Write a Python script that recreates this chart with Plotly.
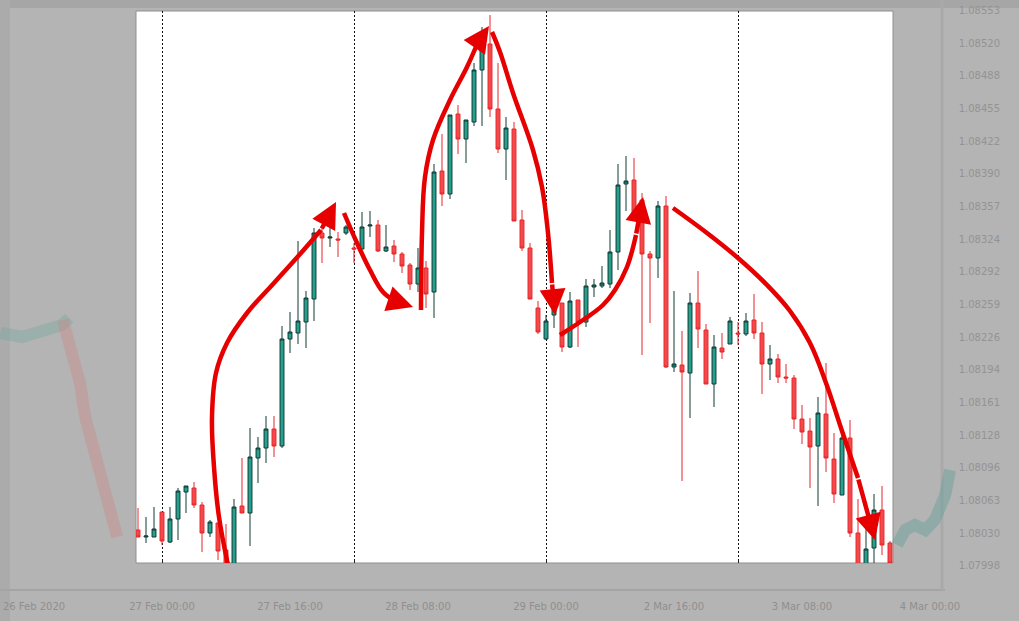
import plotly.graph_objects as go

# hourly candles (index 0 = first candle at the left edge of the panel)
open_ = [1.08033, 1.08026, 1.08026, 1.08051, 1.08021, 1.08044, 1.08071, 1.08075, 1.08058, 1.08030,
         1.08040, 1.08013, 1.07993, 1.08057, 1.08050, 1.08105, 1.08115, 1.08134, 1.08117, 1.08224,
         1.08230, 1.08241, 1.08264, 1.08330, 1.08325, 1.08324, 1.08330, 1.08315, 1.08314, 1.08337,
         1.08338, 1.08312, 1.08317, 1.08309, 1.08298, 1.08279, 1.08295, 1.08271, 1.08392, 1.08369,
         1.08449, 1.08424, 1.08441, 1.08493, 1.08519, 1.08454, 1.08414, 1.08434, 1.08343, 1.08315,
         1.08255, 1.08224, 1.08248, 1.08260, 1.08216, 1.08263, 1.08241, 1.08276, 1.08277, 1.08279,
         1.08311, 1.08379, 1.08383, 1.08363, 1.08309, 1.08305, 1.08357, 1.08196, 1.08198, 1.08190,
         1.08260, 1.08233, 1.08179, 1.08215, 1.08219, 1.08230, 1.08229, 1.08243, 1.08230, 1.08199,
         1.08204, 1.08186, 1.08185, 1.08144, 1.08132, 1.08117, 1.08149, 1.08104, 1.08068, 1.08125,
         1.08030, 1.07993, 1.08015, 1.08053, 1.08020]
high = [1.08055, 1.08046, 1.08056, 1.08051, 1.08056, 1.08075, 1.08077, 1.08081, 1.08061, 1.08043,
        1.08040, 1.08039, 1.08064, 1.08105, 1.08135, 1.08126, 1.08147, 1.08147, 1.08237, 1.08251,
        1.08322, 1.08272, 1.08335, 1.08335, 1.08345, 1.08331, 1.08338, 1.08320, 1.08351, 1.08352,
        1.08343, 1.08338, 1.08323, 1.08311, 1.08300, 1.08315, 1.08302, 1.08399, 1.08429, 1.08448,
        1.08458, 1.08443, 1.08500, 1.08536, 1.08548, 1.08500, 1.08446, 1.08441, 1.08353, 1.08320,
        1.08262, 1.08248, 1.08270, 1.08260, 1.08271, 1.08263, 1.08284, 1.08284, 1.08297, 1.08333,
        1.08399, 1.08407, 1.08405, 1.08370, 1.08312, 1.08362, 1.08367, 1.08272, 1.08232, 1.08270,
        1.08292, 1.08239, 1.08228, 1.08230, 1.08246, 1.08241, 1.08250, 1.08269, 1.08241, 1.08218,
        1.08209, 1.08199, 1.08188, 1.08158, 1.08145, 1.08166, 1.08200, 1.08130, 1.08133, 1.08143,
        1.08064, 1.08046, 1.08069, 1.08077, 1.08022]
low = [1.08026, 1.08020, 1.08026, 1.08018, 1.08020, 1.08023, 1.08050, 1.08055, 1.08011, 1.08026,
       1.08003, 1.07988, 1.07985, 1.08050, 1.08017, 1.08080, 1.08100, 1.08106, 1.08115, 1.08210,
       1.08219, 1.08215, 1.08242, 1.08300, 1.08316, 1.08306, 1.08328, 1.08300, 1.08314, 1.08326,
       1.08311, 1.08311, 1.08301, 1.08290, 1.08273, 1.08271, 1.08255, 1.08245, 1.08357, 1.08364,
       1.08409, 1.08400, 1.08437, 1.08437, 1.08446, 1.08410, 1.08383, 1.08342, 1.08312, 1.08264,
       1.08229, 1.08223, 1.08235, 1.08211, 1.08215, 1.08216, 1.08236, 1.08266, 1.08275, 1.08275,
       1.08293, 1.08352, 1.08350, 1.08208, 1.08240, 1.08285, 1.08195, 1.08191, 1.08082, 1.08145,
       1.08215, 1.08179, 1.08156, 1.08204, 1.08219, 1.08218, 1.08227, 1.08224, 1.08169, 1.08183,
       1.08180, 1.08180, 1.08134, 1.08119, 1.08075, 1.08057, 1.08091, 1.08060, 1.08068, 1.08026,
       1.07983, 1.07983, 1.07993, 1.08008, 1.07993]
close = [1.08026, 1.08027, 1.08034, 1.08022, 1.08044, 1.08072, 1.08077, 1.08058, 1.08030, 1.08041,
         1.08012, 1.07996, 1.08056, 1.08050, 1.08106, 1.08115, 1.08134, 1.08117, 1.08224, 1.08231,
         1.08242, 1.08265, 1.08330, 1.08325, 1.08326, 1.08323, 1.08336, 1.08314, 1.08336, 1.08338,
         1.08312, 1.08316, 1.08309, 1.08297, 1.08279, 1.08295, 1.08269, 1.08391, 1.08369, 1.08448,
         1.08424, 1.08443, 1.08493, 1.08520, 1.08454, 1.08414, 1.08435, 1.08342, 1.08315, 1.08264,
         1.08231, 1.08242, 1.08265, 1.08216, 1.08262, 1.08241, 1.08277, 1.08278, 1.08280, 1.08311,
         1.08378, 1.08382, 1.08350, 1.08309, 1.08305, 1.08357, 1.08196, 1.08199, 1.08191, 1.08260,
         1.08234, 1.08179, 1.08216, 1.08211, 1.08242, 1.08229, 1.08242, 1.08230, 1.08199, 1.08204,
         1.08186, 1.08185, 1.08144, 1.08131, 1.08116, 1.08150, 1.08105, 1.08069, 1.08125, 1.08030,
         1.07995, 1.08014, 1.08053, 1.08018, 1.08000]
bars = list(range(len(open_)))

# day separators (midnight candles)
day_breaks = [3, 27, 51, 75]

# hand-drawn swing arrows: (candle index, price) points, last point is the arrow tip
arrows = [
    ([11.25, 10.125, 9.5, 9.25, 9.75, 11.125, 13.625, 17.0, 20.375, 22.875, 24.75],
     [1.07998, 1.08046, 1.08096, 1.08146, 1.08190, 1.08220, 1.08250, 1.08280, 1.08310, 1.08333, 1.08361]),
    ([25.75, 27.375, 29.0, 30.625, 32.125, 34.375],
     [1.08350, 1.08320, 1.08293, 1.08271, 1.08262, 1.08256]),
    ([35.375, 35.5, 35.875, 36.875, 39.0, 41.125, 42.5, 43.875],
     [1.08253, 1.08330, 1.08386, 1.08423, 1.08463, 1.08496, 1.08521, 1.08537]),
    ([44.25, 45.25, 46.875, 49.375, 50.5, 51.25, 51.75, 52.125],
     [1.08531, 1.08511, 1.08470, 1.08413, 1.08376, 1.08330, 1.08280, 1.08248]),
    ([52.75, 55.625, 58.125, 59.625, 61.125, 62.25, 63.125],
     [1.08228, 1.08243, 1.08258, 1.08273, 1.08296, 1.08328, 1.08366]),
    ([66.875, 71.125, 75.0, 78.625, 81.5, 84.0, 86.0, 88.0, 90.0, 92.125],
     [1.08355, 1.08330, 1.08305, 1.08278, 1.08252, 1.08220, 1.08180, 1.08132, 1.08085, 1.08023]),
]

# blurred chart visible around the zoomed panel
ghost_left_x = [-17.2, -14.5, -12.0, -9.5, -8.6]
ghost_left_y = [1.08230, 1.08226, 1.08232, 1.08238, 1.08245]
ghost_drop_x = [-9.4, -8.25, -7.25, -6.6, -5.75, -4.75, -3.9, -3.25, -2.6]
ghost_drop_y = [1.08243, 1.08213, 1.08180, 1.08146, 1.08120, 1.08096, 1.08073, 1.08046, 1.08026]
ghost_right_x = [94.9, 95.9, 97.1, 98.4, 99.6, 100.9, 101.5]
ghost_right_y = [1.08018, 1.08033, 1.08038, 1.08033, 1.08043, 1.08068, 1.08093]

price_labels = [1.08553, 1.08520, 1.08488, 1.08455, 1.08422, 1.08390, 1.08357, 1.08324, 1.08292,
                1.08259, 1.08226, 1.08194, 1.08161, 1.08128, 1.08096, 1.08063, 1.08030, 1.07998]
time_label_pos = [-13, 3, 19, 35, 51, 67, 83, 99]
time_labels = ["26 Feb 2020", "27 Feb 00:00", "27 Feb 16:00", "28 Feb 08:00",
               "29 Feb 00:00", "2 Mar 16:00", "3 Mar 08:00", "4 Mar 00:00"]

W, H = 1019, 621
px_left, px_right, px_top, px_bottom = 136, 893, 11, 563

fig = go.Figure()

# background (blurred) layer on a full-page axis pair
fig.add_trace(go.Scatter(x=ghost_left_x, y=ghost_left_y, mode="lines", xaxis="x2", yaxis="y2",
                         line=dict(color="rgba(110,165,155,0.35)", width=12), hoverinfo="skip"))
fig.add_trace(go.Scatter(x=ghost_drop_x, y=ghost_drop_y, mode="lines", xaxis="x2", yaxis="y2",
                         line=dict(color="rgba(210,130,130,0.35)", width=12), hoverinfo="skip"))
fig.add_trace(go.Scatter(x=ghost_right_x, y=ghost_right_y, mode="lines", xaxis="x2", yaxis="y2",
                         line=dict(color="rgba(100,160,150,0.45)", width=12), hoverinfo="skip"))

fig.add_trace(go.Candlestick(
    x=bars, open=open_, high=high, low=low, close=close,
    increasing=dict(line=dict(color="#0f3a33", width=1), fillcolor="#26a08f"),
    decreasing=dict(line=dict(color="#e8262a", width=1), fillcolor="#f24a4a"),
    whiskerwidth=0, hoverinfo="skip"))

for ax_, ay_ in arrows:
    fig.add_trace(go.Scatter(x=ax_[:-1], y=ay_[:-1], mode="lines",
                             line=dict(color="#e60000", width=4.5, shape="spline", smoothing=1.1),
                             hoverinfo="skip"))
    fig.add_annotation(x=ax_[-1], y=ay_[-1], ax=ax_[-2], ay=ay_[-2], xref="x", yref="y",
                       axref="x", ayref="y", text="", showarrow=True, arrowhead=2,
                       arrowsize=1.15, arrowwidth=4.5, arrowcolor="#e60000", standoff=0)

# white zoom panel and faint frame lines of the blurred chart
fig.add_shape(type="rect", xref="paper", yref="paper", layer="below",
              x0=px_left / W, x1=px_right / W, y0=1 - px_bottom / H, y1=1 - px_top / H,
              fillcolor="white", line=dict(color="#8f8f8f", width=1))
fig.add_shape(type="rect", xref="paper", yref="paper", layer="below",
              x0=0, x1=1, y0=1 - 8 / H, y1=1, fillcolor="#a6a6a6", line_width=0)
fig.add_shape(type="rect", xref="paper", yref="paper", layer="below",
              x0=0, x1=10 / W, y0=0, y1=1, fillcolor="#ababab", line_width=0)
fig.add_shape(type="line", xref="paper", yref="paper", layer="below",
              x0=0, x1=945 / W, y0=1 - 590 / H, y1=1 - 590 / H, line=dict(color="#a4a4a4", width=2))
fig.add_shape(type="line", xref="paper", yref="paper", layer="below",
              x0=942 / W, x1=942 / W, y0=1 - 590 / H, y1=1, line=dict(color="#a9a9a9", width=3))

fig.update_layout(
    width=W, height=H, margin=dict(l=0, r=0, t=0, b=0),
    paper_bgcolor="#b4b4b4", plot_bgcolor="rgba(0,0,0,0)",
    showlegend=False, boxgap=0.3,
    font=dict(family="DejaVu Sans", size=10, color="#919191"),
    xaxis=dict(domain=[px_left / W, px_right / W], range=[-0.25, 94.375],
               tickvals=day_breaks, showticklabels=False, ticks="inside", ticklen=3,
               tickcolor="#222222", showgrid=True, gridcolor="#111111", gridwidth=1,
               griddash="2px,2px", zeroline=False, showline=False,
               rangeslider=dict(visible=False), fixedrange=True),
    yaxis=dict(domain=[1 - px_bottom / H, 1 - px_top / H], range=[1.08000, 1.08552],
               showgrid=False, showticklabels=False, zeroline=False, fixedrange=True),
    xaxis2=dict(domain=[0, 1], range=[-138 / 8, (W - 138) / 8], anchor="y2",
                tickvals=time_label_pos, ticktext=time_labels, ticklabelposition="inside",
                ticklabelstandoff=6, ticks="", showgrid=False, zeroline=False, showline=False,
                tickfont=dict(size=10, color="#8f8f8f")),
    yaxis2=dict(domain=[0, 1], range=[1.08 - (H - px_bottom) / 1e5, 1.08 + px_bottom / 1e5],
                anchor="x2", side="right", tickvals=price_labels,
                ticktext=[f"{p:.5f}" for p in price_labels], ticklabelposition="inside",
                ticklabelstandoff=16, ticks="", showgrid=False, zeroline=False, showline=False,
                tickfont=dict(size=10, color="#939393")),
)

# the page body has a default 8px margin; drop it so the figure fills the window
fig.write_html("out.html", config={"displayModeBar": False},
               post_script="document.body.style.margin = '0px';")
